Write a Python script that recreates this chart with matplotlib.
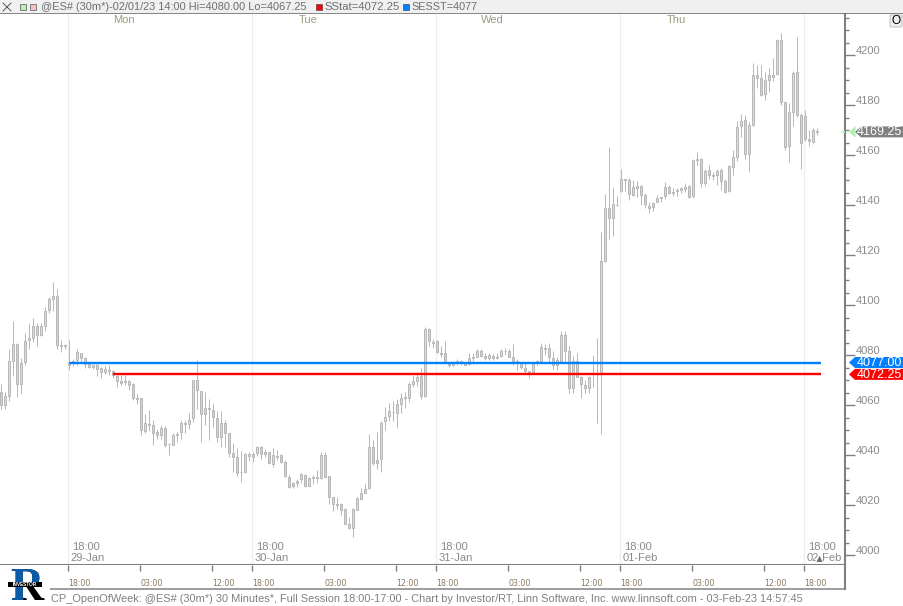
import numpy as np
import matplotlib
matplotlib.use('Agg')
import matplotlib.pyplot as plt
from matplotlib.patches import Polygon, Rectangle, FancyBboxPatch
from matplotlib.lines import Line2D
from matplotlib.ticker import MultipleLocator

plt.rcParams['font.family'] = ['Liberation Sans', 'DejaVu Sans']

W, H = 904, 606

# 30 minute bars of @ES#, the first bar sits 17 bars before the 29-Jan 18:00 bar
first_bar = -17

highs = [
    4068.4, 4065.2, 4082.3, 4093.6, 4084.7, 4078.8, 4088.7, 4092.7, 4094.7, 4092.9,
    4092.7, 4099.3, 4103.1, 4109.1, 4106.3, 4085.9, 4084.4, 4085.9, 4078.5, 4082.3,
    4080.8, 4079.1, 4077.2, 4076.4, 4076.3, 4075.1, 4075.6, 4076.0, 4073.9, 4071.9,
    4071.9, 4071.9, 4070.0, 4068.7, 4064.4, 4062.7, 4056.4, 4058.0, 4054.0, 4050.3,
    4052.0, 4051.6, 4044.7, 4048.7, 4049.3, 4053.9, 4054.0, 4056.7, 4070.0, 4078.0,
    4065.5, 4065.2, 4062.5, 4060.7, 4057.5, 4057.5, 4054.0, 4048.7, 4044.7, 4042.7,
    4041.7, 4040.9, 4041.3, 4041.3, 4043.6, 4043.6, 4042.3, 4041.6, 4042.7, 4042.0,
    4040.4, 4038.0, 4032.0, 4029.3, 4030.3, 4032.9, 4032.3, 4031.1, 4032.0, 4034.0,
    4041.2, 4041.2, 4031.6, 4023.3, 4023.1, 4020.7, 4018.7, 4015.3, 4018.7, 4023.1,
    4026.9, 4028.7, 4048.4, 4046.0, 4049.3, 4053.7, 4059.3, 4060.9, 4061.5, 4062.3,
    4064.7, 4065.3, 4069.3, 4071.9, 4073.3, 4074.7, 4091.1, 4090.7, 4086.3, 4086.0,
    4083.6, 4085.6, 4077.3, 4077.7, 4078.3, 4078.0, 4077.3, 4080.7, 4080.7, 4082.3,
    4082.3, 4080.7, 4080.9, 4080.4, 4080.7, 4082.3, 4082.7, 4082.3, 4084.4, 4078.3,
    4077.3, 4077.3, 4073.7, 4077.7, 4078.0, 4084.7, 4084.4, 4084.7, 4081.6, 4079.1,
    4089.6, 4089.6, 4083.6, 4079.6, 4080.7, 4071.6, 4070.0, 4071.6, 4080.0, 4086.7,
    4129.2, 4144.4, 4163.1, 4147.1, 4143.6, 4154.3, 4150.3, 4150.7, 4150.0, 4149.7,
    4148.0, 4144.7, 4141.3, 4141.3, 4144.0, 4143.3, 4149.1, 4148.0, 4146.7, 4146.7,
    4147.3, 4148.7, 4148.0, 4158.5, 4161.1, 4158.7, 4154.4, 4156.0, 4153.3, 4154.3,
    4154.9, 4150.3, 4156.0, 4162.0, 4173.7, 4176.4, 4176.0, 4173.3, 4196.7, 4196.0,
    4196.0, 4193.3, 4194.7, 4198.7, 4206.3, 4208.7, 4181.3, 4180.7, 4193.5, 4207.1,
    4176.7, 4178.0, 4170.0, 4170.7, 4171.0,
]
body_tops = [
    4065.2, 4063.6, 4077.5, 4084.4, 4084.4, 4076.7, 4085.5, 4086.7, 4091.6, 4091.6,
    4091.6, 4097.5, 4102.3, 4103.5, 4103.5, 4083.9, 4083.9, 4076.7, 4077.5, 4081.1,
    4080.7, 4078.7, 4076.7, 4075.9, 4075.9, 4074.7, 4074.3, 4073.9, 4073.5, 4071.6,
    4069.5, 4069.5, 4069.5, 4068.4, 4062.7, 4062.7, 4052.7, 4052.5, 4051.9, 4049.1,
    4050.7, 4050.7, 4044.4, 4047.9, 4048.5, 4052.7, 4052.7, 4053.9, 4069.9, 4069.9,
    4065.5, 4058.7, 4058.7, 4057.9, 4054.7, 4052.7, 4052.7, 4048.7, 4040.7, 4039.1,
    4033.2, 4040.3, 4040.4, 4040.4, 4043.1, 4043.1, 4041.1, 4041.2, 4039.9, 4039.7,
    4039.9, 4037.2, 4031.3, 4028.7, 4029.7, 4032.3, 4031.9, 4030.7, 4031.1, 4031.1,
    4039.9, 4039.9, 4031.5, 4023.1, 4020.3, 4020.3, 4018.3, 4012.3, 4018.3, 4022.7,
    4024.7, 4026.3, 4043.1, 4043.1, 4038.0, 4052.7, 4055.3, 4057.5, 4057.3, 4060.3,
    4062.7, 4063.1, 4068.3, 4069.6, 4071.1, 4071.6, 4090.4, 4090.4, 4085.3, 4085.6,
    4080.7, 4080.7, 4077.1, 4077.3, 4077.7, 4077.7, 4076.8, 4078.7, 4079.3, 4081.5,
    4081.5, 4079.6, 4079.9, 4079.5, 4079.3, 4081.7, 4081.7, 4081.5, 4079.1, 4077.5,
    4076.9, 4074.7, 4073.5, 4077.2, 4077.7, 4083.1, 4082.7, 4082.7, 4078.7, 4077.9,
    4088.0, 4088.0, 4081.5, 4077.7, 4077.7, 4071.2, 4067.9, 4071.2, 4072.7, 4072.7,
    4117.5, 4138.7, 4138.7, 4140.3, 4140.1, 4150.3, 4150.3, 4149.9, 4147.1, 4147.6,
    4147.6, 4143.9, 4139.7, 4140.9, 4142.9, 4143.1, 4147.1, 4147.1, 4145.2, 4145.9,
    4146.7, 4147.3, 4147.6, 4157.9, 4158.3, 4158.3, 4153.5, 4153.9, 4152.0, 4153.5,
    4153.9, 4149.5, 4155.6, 4159.1, 4171.1, 4173.5, 4174.0, 4171.9, 4191.9, 4191.9,
    4190.7, 4190.0, 4191.9, 4191.9, 4206.0, 4206.0, 4181.1, 4177.1, 4192.7, 4193.1,
    4175.9, 4175.5, 4166.3, 4169.9, 4169.6,
]
body_bottoms = [
    4060.1, 4060.1, 4063.6, 4077.7, 4068.4, 4068.4, 4077.2, 4086.1, 4086.8, 4088.1,
    4088.1, 4091.7, 4098.1, 4102.5, 4084.1, 4083.7, 4083.7, 4076.1, 4076.7, 4078.0,
    4078.9, 4076.4, 4075.1, 4075.3, 4074.5, 4073.3, 4073.3, 4073.7, 4071.9, 4069.7,
    4068.8, 4069.2, 4068.1, 4062.7, 4062.5, 4050.1, 4049.7, 4052.1, 4048.9, 4048.1,
    4048.1, 4044.1, 4044.3, 4044.1, 4048.1, 4049.3, 4052.5, 4052.5, 4054.7, 4065.9,
    4056.3, 4056.5, 4058.3, 4055.3, 4047.1, 4047.3, 4048.9, 4040.9, 4039.3, 4032.9,
    4033.1, 4033.3, 4039.6, 4039.3, 4040.9, 4040.5, 4040.5, 4036.9, 4036.5, 4039.3,
    4037.2, 4031.6, 4027.3, 4027.6, 4028.9, 4030.5, 4027.5, 4027.7, 4030.8, 4030.8,
    4030.7, 4031.3, 4023.3, 4020.5, 4020.0, 4018.1, 4012.5, 4010.8, 4010.7, 4018.1,
    4022.5, 4024.8, 4026.7, 4036.9, 4036.9, 4038.3, 4053.5, 4055.7, 4057.1, 4056.9,
    4060.5, 4062.7, 4062.9, 4068.5, 4069.7, 4063.7, 4063.6, 4085.7, 4084.9, 4081.1,
    4080.3, 4077.3, 4076.1, 4076.1, 4076.9, 4076.7, 4076.1, 4076.3, 4078.9, 4079.3,
    4079.6, 4078.8, 4078.9, 4078.9, 4078.9, 4079.7, 4081.5, 4079.3, 4077.7, 4076.9,
    4075.1, 4073.7, 4073.1, 4073.1, 4076.9, 4077.7, 4082.3, 4079.3, 4076.0, 4076.0,
    4077.6, 4081.5, 4066.9, 4066.9, 4071.3, 4068.3, 4066.9, 4066.9, 4072.5, 4072.5,
    4072.4, 4117.7, 4134.7, 4134.7, 4139.9, 4145.5, 4150.0, 4144.5, 4144.1, 4146.9,
    4144.1, 4140.3, 4138.9, 4139.3, 4141.3, 4142.9, 4143.5, 4144.7, 4144.8, 4145.5,
    4146.1, 4146.5, 4143.3, 4143.7, 4158.0, 4148.9, 4148.9, 4152.1, 4151.5, 4152.1,
    4149.7, 4145.3, 4145.6, 4155.3, 4159.3, 4171.6, 4160.5, 4160.5, 4172.0, 4190.9,
    4184.0, 4184.3, 4190.0, 4191.3, 4192.4, 4181.3, 4163.3, 4163.5, 4177.3, 4176.1,
    4165.0, 4166.3, 4165.5, 4165.3, 4169.3,
]
lows = [
    4058.5, 4058.5, 4061.7, 4071.6, 4063.1, 4064.4, 4076.1, 4082.5, 4085.3, 4083.6,
    4087.6, 4089.7, 4096.7, 4097.7, 4082.5, 4081.2, 4082.5, 4074.0, 4075.6, 4076.1,
    4076.7, 4074.8, 4074.8, 4074.5, 4071.6, 4070.8, 4072.4, 4071.9, 4070.8, 4067.3,
    4068.1, 4068.1, 4066.0, 4062.0, 4060.4, 4048.1, 4048.7, 4049.5, 4044.1, 4046.3,
    4046.3, 4043.3, 4040.1, 4044.1, 4045.2, 4046.3, 4048.7, 4050.5, 4053.2, 4058.5,
    4045.2, 4052.1, 4046.0, 4051.1, 4045.2, 4043.3, 4043.3, 4039.3, 4033.2, 4031.6,
    4029.3, 4033.1, 4037.7, 4037.1, 4039.6, 4038.3, 4039.1, 4036.4, 4035.3, 4038.0,
    4036.9, 4031.1, 4026.8, 4026.7, 4027.1, 4028.9, 4027.3, 4027.6, 4028.4, 4028.7,
    4030.5, 4031.1, 4020.4, 4017.7, 4018.5, 4016.0, 4012.4, 4010.5, 4007.3, 4018.0,
    4022.0, 4024.7, 4026.5, 4036.1, 4034.3, 4033.3, 4050.0, 4053.6, 4053.6, 4050.9,
    4056.9, 4058.9, 4061.3, 4067.3, 4067.6, 4062.5, 4063.3, 4083.6, 4082.8, 4080.9,
    4079.1, 4076.9, 4075.3, 4075.6, 4075.9, 4076.1, 4075.6, 4076.1, 4077.7, 4079.1,
    4079.3, 4078.0, 4078.0, 4078.0, 4078.3, 4079.3, 4080.1, 4079.1, 4076.1, 4074.0,
    4074.5, 4072.4, 4070.8, 4072.7, 4076.1, 4077.5, 4080.1, 4076.9, 4074.5, 4074.0,
    4076.7, 4077.5, 4064.9, 4064.9, 4071.1, 4062.9, 4064.7, 4064.9, 4067.3, 4052.9,
    4048.4, 4117.3, 4126.3, 4127.7, 4139.6, 4145.2, 4145.5, 4142.0, 4143.7, 4143.3,
    4140.0, 4138.7, 4136.9, 4137.7, 4141.2, 4141.2, 4142.4, 4144.3, 4143.6, 4143.6,
    4144.7, 4145.3, 4142.9, 4142.9, 4156.0, 4147.3, 4147.7, 4150.5, 4150.0, 4148.0,
    4146.0, 4144.9, 4145.3, 4152.0, 4157.7, 4167.3, 4158.3, 4153.3, 4171.6, 4186.7,
    4183.6, 4182.0, 4185.3, 4189.5, 4192.0, 4180.0, 4162.0, 4157.3, 4171.6, 4175.3,
    4154.5, 4165.7, 4163.6, 4164.9, 4168.0,
]
# u = up bar (green body), d = down bar (pink body)
directions = (
    'duuuduuuud' 'uuuudduddu' 'dddudduddd' 'dddddduddd' 'udduuuduud'
    'dudddudddd' 'duududddud' 'dddduududu' 'uddddddduu' 'uuudduuudu'
    'uuuuududud' 'ddduudduuu' 'dduddudddd' 'ddduuudddu' 'uddudddudd'
    'uuduuudduu' 'ddduuuuduu' 'uududduddu' 'dduuuuduud' 'duududduud'
    'ddduu'
)

sstat = 4072.25
sesst = 4077.00
sstat_start = 11
sesst_start = 0
level_end = 188
last_price = 4169.25

session_starts = [0, 46, 92, 138, 184]
session_dates = ['29-Jan', '30-Jan', '31-Jan', '01-Feb', '02-Feb']
week_days = ['Mon', 'Tue', 'Wed', 'Thu']
time_offsets = [0, 18, 36]
time_names = ['18:00', '03:00', '12:00']
price_labels = [4000, 4020, 4040, 4060, 4080, 4100, 4120, 4140, 4160, 4180, 4200]

header = '@ES# (30m*)-02/01/23 14:00 Hi=4080.00 Lo=4067.25'
footer = ('CP_OpenOfWeek: @ES# (30m*) 30 Minutes*, Full Session 18:00-17:00 - Chart by '
          'Investor/RT, Linn Software, Inc. www.linnsoft.com - 03-Feb-23 14:57:45')

GRAY = '#808080'
TEXT = '#8a8a8a'
WICK = '#b8b8b8'


def ptext(x, y, s, **kw):
    # text placed by pixel position, y from the top of the image
    return fig.text(x / W, 1 - y / H, s, **kw)


def fit_width(t, target):
    # scale the font so the text takes the same width as in the reference
    w = t.get_window_extent(fig.canvas.get_renderer()).width
    t.set_fontsize(t.get_fontsize() * target / w)


def pline(x0, y0, x1, y1, color=GRAY, lw=1.0):
    fig.add_artist(Line2D([x0 / W, x1 / W], [1 - y0 / H, 1 - y1 / H], color=color,
                          lw=lw * 0.72, transform=fig.transFigure, solid_capstyle='butt'))


def pbox(x, y, w, h, fc, ec='none', lw=0.0, z=3):
    fig.add_artist(Rectangle((x / W, 1 - (y + h) / H), w / W, h / H, transform=fig.transFigure,
                             facecolor=fc, edgecolor=ec, lw=lw * 0.72, zorder=z))


def price_tag(price, fc, label, tip=849, half=5.5):
    # arrow shaped price flag on the right axis
    yc = H - ax.transData.transform((0, price))[1]
    pts = [(tip, yc), (tip + 6, yc - half), (W, yc - half), (W, yc + half), (tip + 6, yc + half)]
    fig.add_artist(Polygon([(a / W, 1 - b / H) for a, b in pts], closed=True, facecolor=fc,
                           edgecolor='none', transform=fig.transFigure, zorder=6))
    ptext(857, yc + 0.5, label, color='white', fontsize=9.0, ha='left', va='center', zorder=7)
    return yc


fig = plt.figure(figsize=(W / 100, H / 100), dpi=100, facecolor='white')

xs = np.arange(first_bar, first_bar + len(highs))
up = np.array([d == 'u' for d in directions])
tops = np.array(body_tops)
bottoms = np.array(body_bottoms)

# main price pane
ax = fig.add_axes([0, 1 - 565 / H, 845.5 / W, (565 - 14) / H])
ax.set_xlim(-69.3 / 4, (845.5 - 69.3) / 4)
ax.set_ylim(3996, 4216.4)

for s in session_starts:
    ax.axvline(s - 0.25, color='#eeeeee', lw=0.9, zorder=1)

ax.vlines(xs, lows, highs, color=WICK, lw=0.72, zorder=2)
ax.bar(xs[up], (tops - bottoms)[up], bottom=bottoms[up], width=0.5, color='#bff0b6',
       edgecolor=WICK, linewidth=0.72, zorder=3)
ax.bar(xs[~up], (tops - bottoms)[~up], bottom=bottoms[~up], width=0.5, color='#f6c2c2',
       edgecolor=WICK, linewidth=0.72, zorder=3)

ax.plot([sesst_start, level_end], [sesst, sesst], color='#0080ff', lw=1.7, zorder=4,
        solid_capstyle='butt')
ax.plot([sstat_start, level_end], [sstat, sstat], color='#ff0000', lw=1.7, zorder=4,
        solid_capstyle='butt')

ax.yaxis.tick_right()
ax.yaxis.set_major_locator(MultipleLocator(20))
ax.yaxis.set_minor_locator(MultipleLocator(5))
ax.tick_params(axis='y', which='major', length=7.2, width=1.0, color=GRAY, labelright=False)
ax.tick_params(axis='y', which='minor', length=3, width=1.0, color=GRAY)
ax.set_xticks([])
for p in price_labels:
    ax.annotate(str(p), (1, p), xycoords=ax.get_yaxis_transform(), xytext=(10.5, 4),
                textcoords='offset pixels', color=TEXT, fontsize=8.0, va='center', ha='left',
                annotation_clip=False)
for side in ['top', 'left']:
    ax.spines[side].set_visible(False)
for side in ['right', 'bottom']:
    ax.spines[side].set_color(GRAY)
    ax.spines[side].set_linewidth(1.5)

# labels inside the pane
for s, day in zip(session_starts, week_days):
    ax.annotate(day, (s + 13.7, 1), xycoords=ax.get_xaxis_transform(), xytext=(0, -6),
                textcoords='offset pixels', va='center', ha='center', fontsize=8.0, color='#9a9a80')
for s, d in zip(session_starts, session_dates):
    ax.annotate('18:00', (s - 0.25, 0), xycoords=ax.get_xaxis_transform(), xytext=(3.5, 18),
                textcoords='offset pixels', color=TEXT, fontsize=8.0, va='center')
    ax.annotate(d, (s - 0.25, 0), xycoords=ax.get_xaxis_transform(), xytext=(2.5, 7),
                textcoords='offset pixels', color=TEXT, fontsize=8.0, va='center')

# little marker over the last date
ax.plot([level_end - 0.5], [0.012], marker='^', ms=6, mfc='#707070', mec='white', mew=0.8,
        transform=ax.get_xaxis_transform(), clip_on=False, zorder=5)

# time strip under the pane
ax_time = fig.add_axes([0, 1 - 589 / H, 845.5 / W, 24 / H])
ax_time.set_xlim(ax.get_xlim())
ax_time.set_ylim(0, 1)
tick_x = []
tick_names = []
for s in session_starts:
    for off, name in zip(time_offsets, time_names):
        if s == session_starts[-1] and off > 0:
            continue
        tick_x.append(s - 0.25 + off)
        tick_names.append(name)
ax_time.set_xticks(tick_x)
ax_time.set_xticklabels([])
ax_time.set_yticks([])
ax_time.tick_params(axis='x', top=True, bottom=False, direction='in', length=4.5, width=1.0,
                    color=GRAY)
for x, name in zip(tick_x, tick_names):
    ax_time.text(x, 0.25, name, ha='left', va='center', fontsize=5.7, color='#8a7660',
                 family='DejaVu Sans')
for side in ['top', 'left', 'bottom']:
    ax_time.spines[side].set_visible(False)
ax_time.spines['right'].set_color(GRAY)
ax_time.spines['right'].set_linewidth(1.5)
pline(50, 589, 846, 589, lw=1.5)

# header bar
pbox(0, 0, W, 13, '#f0f0f0')
pline(0, 13.3, W, 13.3, color='#606060', lw=1.5)
pline(0, 0.5, W, 0.5, color='#606060', lw=1.0)
pline(0.5, 0, 0.5, 13, color='#606060', lw=1.0)
pline(14, 0, 14, 13, color='#909090', lw=1.0)
fig.add_artist(Line2D([3 / W, 11 / W], [1 - 3 / H, 1 - 11 / H], color='#404040', lw=0.6, zorder=5))
fig.add_artist(Line2D([3 / W, 11 / W], [1 - 11 / H, 1 - 3 / H], color='#404040', lw=0.6, zorder=5))
pbox(20.5, 4, 6, 6, '#b8f0b0', ec='#808080', lw=1, z=5)
pbox(29.5, 4, 6, 6, '#f4c0c0', ec='#808080', lw=1, z=5)
t = ptext(41, 7, header, fontsize=8.4, color='#6e6e6e', va='center', ha='left', zorder=5)
fit_width(t, 265)
pbox(316, 4, 6, 6, '#ff0000', ec='#404040', lw=0.6, z=5)
t = ptext(324, 7, 'SStat=4072.25', fontsize=8.4, color='#6e6e6e', va='center', ha='left', zorder=5)
fit_width(t, 75)
pbox(403, 4, 6, 6, '#0080ff', ec='#404040', lw=0.6, z=5)
t = ptext(411, 7, 'SESST=4077', fontsize=8.4, color='#6e6e6e', va='center', ha='left', zorder=5)
fit_width(t, 66)

# O button in the top right corner
fig.add_artist(FancyBboxPatch((890 / W, 1 - 27 / H), 12 / W, 12 / H, boxstyle='round,pad=0,rounding_size=0.002',
                              transform=fig.transFigure, facecolor='#eeeeee', edgecolor='#c0c0c0',
                              lw=0.7, zorder=5))
ptext(896, 21, 'O', fontsize=8.6, color='black', ha='center', va='center', zorder=6)

# price flags
price_tag(sesst, '#0080ff', '%.2f' % sesst)
price_tag(sstat, '#ff0000', '%.2f' % sstat)
yc = price_tag(last_price, GRAY, '%.2f' % last_price, tip=855)
fig.add_artist(Polygon([(849 / W, 1 - yc / H), (855.5 / W, 1 - (yc - 6) / H), (855.5 / W, 1 - (yc + 6) / H)],
                       closed=True, facecolor='#b4f0b4', edgecolor='none', transform=fig.transFigure, zorder=6))
pline(841, yc, 845, yc, color='#b4f0b4', lw=1.5)

# footer
t = ptext(51, 599, footer, fontsize=8.4, color='#808080', va='center', ha='left')
fit_width(t, 751)

# logo, a blue R with a black leg and a film strip across it
for clip in [None, (8, 560, 36, 23), (8, 583, 15, 22)]:
    t = ptext(27, 589, 'R', fontsize=33, fontweight='bold', family='Liberation Serif', ha='center',
              va='center', color='black' if clip is None else '#0a5ca8', zorder=8)
    if clip is not None:
        t.set_clip_path(Rectangle((clip[0], H - clip[1] - clip[3]), clip[2], clip[3],
                                  transform=None))
pbox(8, 581.5, 34, 5, 'black', z=9)
ptext(25, 584, 'INVESTOR', fontsize=3.4, color='white', ha='center', va='center', zorder=10,
      fontweight='bold')

fig.savefig('out.png', dpi=100, facecolor='white')
